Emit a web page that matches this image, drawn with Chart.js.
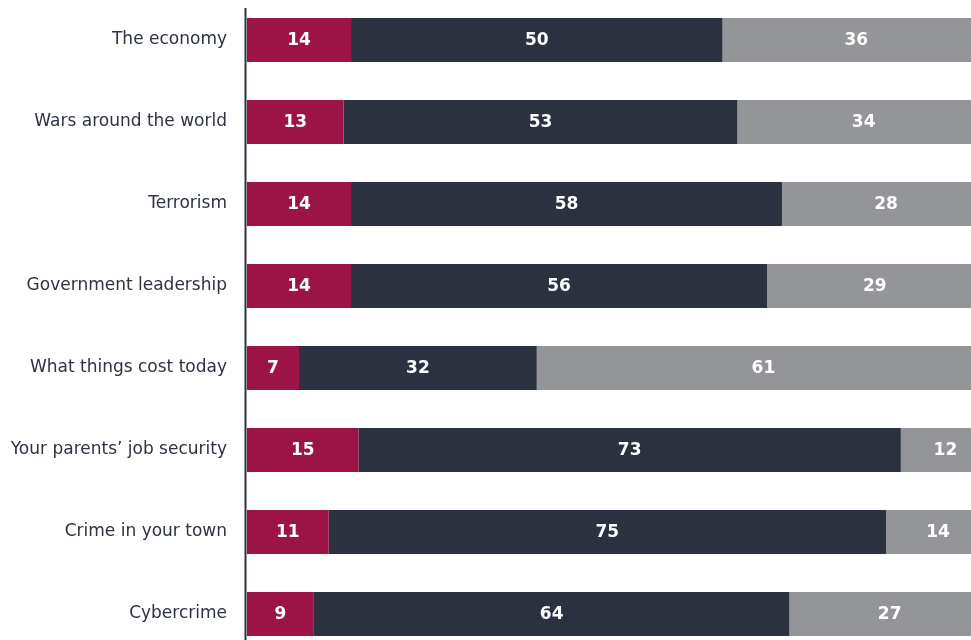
<!DOCTYPE html>
<html>
<head>
<meta charset="utf-8">
<script src="https://cdn.jsdelivr.net/npm/chart.js@4/dist/chart.umd.min.js"></script>
<style>
  html, body { margin: 0; padding: 0; background: #fff; overflow: hidden; }
  #wrap { position: absolute; left: 0; top: -1px; width: 990px; height: 656px; }
</style>
</head>
<body>
<div id="wrap"><canvas id="grafico" width="990" height="656"></canvas></div>
<script>
const categorias = ['The economy', 'Wars around the world', 'Terrorism', 'Government leadership',
  'What things cost today', 'Your parents\u2019 job security', 'Crime in your town', 'Cybercrime'];
const serieA = [14, 13, 14, 14, 7, 15, 11, 9];
const serieB = [50, 53, 58, 56, 32, 73, 75, 64];
const serieC = [36, 34, 28, 29, 61, 12, 14, 27];

const colores = ['#9c1446', '#2c3140', '#949598'];
const fuente = '"DejaVu Sans", Verdana, sans-serif';

// numeros blancos centrados en cada tramo
const etiquetas = {
  id: 'etiquetas',
  afterDatasetsDraw(chart) {
    const ctx = chart.ctx;
    ctx.save();
    ctx.fillStyle = '#ffffff';
    ctx.font = 'bold 17px ' + fuente;
    ctx.textAlign = 'center';
    ctx.textBaseline = 'middle';
    chart.data.datasets.forEach((ds, i) => {
      chart.getDatasetMeta(i).data.forEach((bar, j) => {
        const x = (bar.x + bar.base) / 2;
        ctx.fillText(ds.data[j], x, bar.y + 1);
      });
    });
    ctx.restore();
  }
};

// linea vertical del eje
const ejeLinea = {
  id: 'ejeLinea',
  afterDraw(chart) {
    const ctx = chart.ctx;
    const x = chart.chartArea.left - 1.5;
    ctx.save();
    ctx.strokeStyle = '#2c3140';
    ctx.lineWidth = 2;
    ctx.beginPath();
    ctx.moveTo(x, 9);
    ctx.lineTo(x, chart.height);
    ctx.stroke();
    ctx.restore();
  }
};

const ctx = document.getElementById('grafico').getContext('2d');
new Chart(ctx, {
  type: 'bar',
  data: {
    labels: categorias,
    datasets: [
      { data: serieA, backgroundColor: colores[0] },
      { data: serieB, backgroundColor: colores[1] },
      { data: serieC, backgroundColor: colores[2] }
    ]
  },
  options: {
    indexAxis: 'y',
    responsive: false,
    animation: false,
    layout: { padding: 0 },
    datasets: { bar: { barPercentage: 1, categoryPercentage: 44 / 82, borderWidth: 0 } },
    plugins: { legend: { display: false }, tooltip: { enabled: false }, title: { display: false } },
    scales: {
      x: { stacked: true, min: 0, max: 100, display: false },
      y: {
        stacked: true,
        grid: { display: false, drawTicks: false },
        border: { display: false },
        ticks: { color: '#2d3340', font: { family: fuente, size: 17 }, padding: 20 },
        afterFit(scale) {
          scale.width = 247;
          scale.paddingTop = 0;
          scale.paddingBottom = 0;
        }
      }
    }
  },
  plugins: [etiquetas, ejeLinea]
});
</script>
</body>
</html>
